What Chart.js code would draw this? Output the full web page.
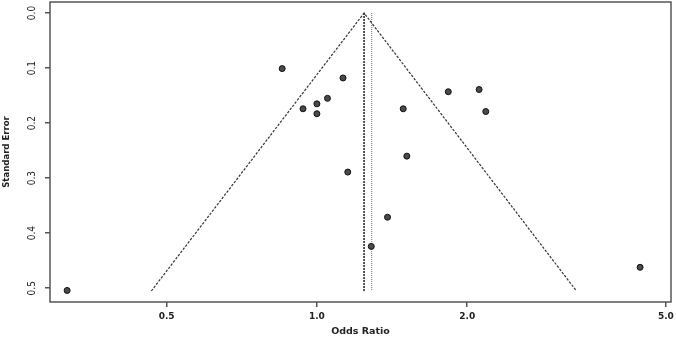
<!DOCTYPE html>
<html lang="en">
<head>
    <meta charset="UTF-8">
    <title>Funnel Plot</title>
    <script src="https://cdn.jsdelivr.net/npm/chart.js"></script>
    <style>
        body, html {
            margin: 0;
            padding: 0;
            width: 676px;
            height: 339px;
            overflow: hidden;
            background: #fff;
        }
        #wrap { width: 676px; height: 342px; margin-top: -3px; }
    </style>
</head>
<body>
    <div id="wrap"><canvas id="funnelChart"></canvas></div>

    <script>
        // studies: odds ratio and standard error
        const oddsRatio = [0.852, 0.938, 1.0, 1.0, 1.05, 1.128, 1.489, 1.833, 2.113, 2.179, 1.514, 1.153, 1.385, 1.285, 4.44, 0.316];
        const stdError  = [0.101, 0.174, 0.165, 0.183, 0.155, 0.118, 0.174, 0.143, 0.139, 0.179, 0.260, 0.289, 0.371, 0.424, 0.462, 0.504];

        // funnel: pooled estimate and pseudo 95% limits
        const pooledOR = 1.243;
        const otherOR = 1.287;
        const maxSE = 0.505;
        const funnelOR = [0.466, 1.243, 3.31];
        const funnelSE = [0.505, 0, 0.505];

        const xTicks = [0.5, 1.0, 2.0, 5.0];
        const yTicks = [0.0, 0.1, 0.2, 0.3, 0.4, 0.5];

        const axisColor = '#555';
        const boxPlugin = {
            id: 'box',
            afterDraw(chart) {
                const a = chart.chartArea, c = chart.ctx;
                c.save();
                c.strokeStyle = axisColor;
                c.lineWidth = 1.5;
                c.strokeRect(a.left, a.top, a.right - a.left, a.bottom - a.top);
                c.restore();
            }
        };

        new Chart(document.getElementById('funnelChart'), {
            type: 'scatter',
            data: {
                datasets: [
                    {
                        data: oddsRatio.map((v, i) => ({ x: v, y: stdError[i] })),
                        backgroundColor: '#4a4a4a',
                        borderColor: '#111',
                        borderWidth: 1,
                        pointRadius: 3
                    },
                    {
                        type: 'line',
                        data: funnelOR.map((v, i) => ({ x: v, y: funnelSE[i] })),
                        borderColor: '#333',
                        borderWidth: 1.2,
                        borderDash: [2.5, 1.5],
                        pointRadius: 0,
                        fill: false
                    },
                    {
                        type: 'line',
                        data: [{ x: pooledOR, y: 0 }, { x: pooledOR, y: maxSE }],
                        borderColor: '#222',
                        borderWidth: 1.5,
                        borderDash: [2, 1],
                        pointRadius: 0
                    },
                    {
                        type: 'line',
                        data: [{ x: otherOR, y: 0 }, { x: otherOR, y: maxSE }],
                        borderColor: '#888',
                        borderWidth: 1.2,
                        borderDash: [1, 1],
                        pointRadius: 0
                    }
                ]
            },
            options: {
                responsive: true,
                maintainAspectRatio: false,
                animation: false,
                layout: { padding: { top: 0, right: 3, left: 0, bottom: 0 } },
                scales: {
                    x: {
                        type: 'logarithmic',
                        min: 0.292,
                        max: 5.12,
                        afterBuildTicks: (s) => { s.ticks = xTicks.map(v => ({ value: v })); },
                        afterFit: (s) => { s.height = 37; s.paddingLeft = 0; s.paddingRight = 0; },
                        grid: { drawOnChartArea: false, drawTicks: true, tickLength: 5, color: axisColor, lineWidth: 1.5 },
                        border: { display: false },
                        ticks: {
                            callback: (v) => Number(v).toFixed(1),
                            font: { family: 'DejaVu Sans', size: 9, weight: 'bold' },
                            color: '#222',
                            padding: 4,
                            maxRotation: 0,
                            autoSkip: false
                        },
                        title: {
                            display: true,
                            text: 'Odds Ratio',
                            font: { family: 'DejaVu Sans', size: 9.5, weight: 'bold' },
                            color: '#222',
                            padding: { top: 0, bottom: 2 }
                        }
                    },
                    y: {
                        reverse: true,
                        min: -0.02,
                        max: 0.525,
                        afterBuildTicks: (s) => { s.ticks = yTicks.map(v => ({ value: v })); },
                        afterFit: (s) => { s.width = 50; s.paddingTop = 0; s.paddingBottom = 0; },
                        grid: { drawOnChartArea: false, drawTicks: true, tickLength: 5, color: axisColor, lineWidth: 1.5 },
                        border: { display: false },
                        ticks: {
                            callback: (v) => Number(v).toFixed(1),
                            font: { family: "'Liberation Sans Narrow', 'DejaVu Sans Condensed', sans-serif", size: 10 },
                            color: '#222',
                            minRotation: 90,
                            maxRotation: 90,
                            crossAlign: 'center',
                            padding: 5,
                            autoSkip: false
                        },
                        title: {
                            display: true,
                            text: 'Standard Error',
                            font: { family: "'Liberation Sans Narrow', 'DejaVu Sans Condensed', sans-serif", size: 9.5, weight: 'bold' },
                            color: '#222',
                            padding: { top: 1, bottom: 0 }
                        }
                    }
                },
                plugins: {
                    legend: { display: false },
                    tooltip: { enabled: false }
                }
            },
            plugins: [boxPlugin]
        });
    </script>
</body>
</html>
